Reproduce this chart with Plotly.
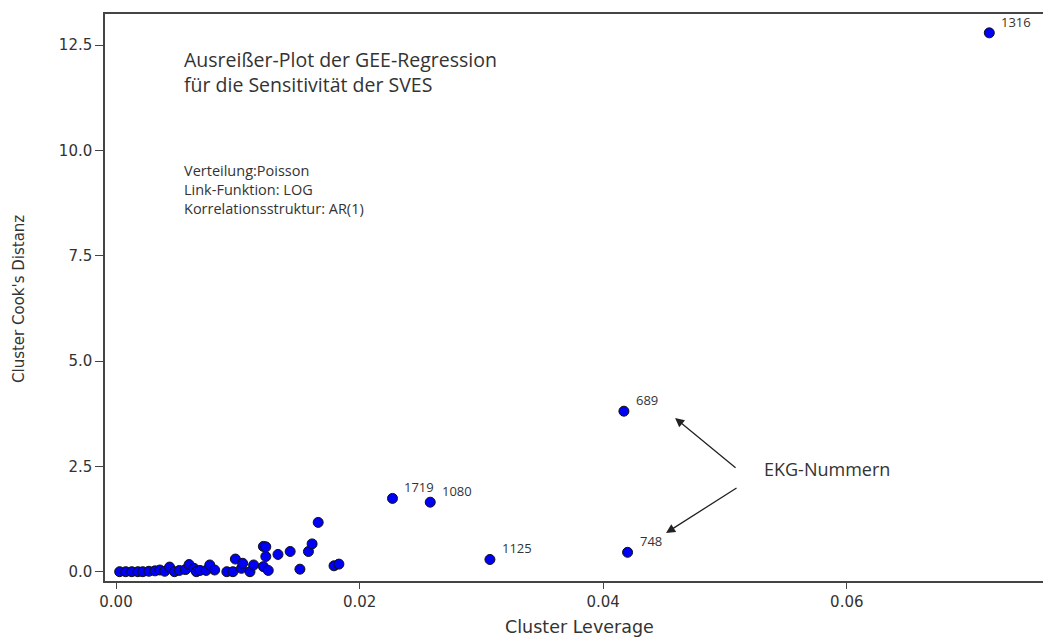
import plotly.graph_objects as go

# ---- data ----
leverage = [0.0003, 0.0008, 0.0013, 0.0018, 0.0022, 0.0027, 0.0032, 0.0036, 0.0040, 0.0044,
            0.0048, 0.0052, 0.0057, 0.0060, 0.0064, 0.0066, 0.0069, 0.0074, 0.0077, 0.0081,
            0.0091, 0.0096, 0.0098, 0.0103, 0.0104, 0.0110, 0.0113, 0.0121, 0.0121, 0.0123,
            0.0123, 0.0125, 0.0133, 0.0143, 0.0151, 0.0158, 0.0161, 0.0166, 0.0179, 0.0183,
            0.0227, 0.0258, 0.0307, 0.0417, 0.0420, 0.0717]
cooks = [0.00, 0.00, 0.00, 0.00, 0.00, 0.01, 0.02, 0.04, 0.01, 0.11,
         0.00, 0.03, 0.05, 0.17, 0.08, 0.00, 0.03, 0.03, 0.16, 0.04,
         0.00, 0.00, 0.30, 0.08, 0.20, 0.00, 0.16, 0.12, 0.60, 0.59,
         0.36, 0.03, 0.41, 0.48, 0.06, 0.48, 0.66, 1.17, 0.14, 0.18,
         1.74, 1.65, 0.29, 3.81, 0.46, 12.79]
point_labels = [""] * 40 + ["1719", "1080", "1125", "689", "748", "1316"]

x_ticks = [0.00, 0.02, 0.04, 0.06]
x_tick_text = ["0.00", "0.02", "0.04", "0.06"]
y_ticks = [0.0, 2.5, 5.0, 7.5, 10.0, 12.5]
y_tick_text = ["0.0", "2.5", "5.0", "7.5", "10.0", "12.5"]

title_lines = ["Ausreißer-Plot der GEE-Regression", "für die Sensitivität der SVES"]
info_lines = ["Verteilung:Poisson", "Link-Funktion: LOG", "Korrelationsstruktur: AR(1)"]
arrow_text = "EKG-Nummern"
x_title = "Cluster Leverage"
y_title = "Cluster Cook's Distanz"

# ---- figure geometry (pixels) ----
W, H = 1043, 637
L, R, T, B = 105, 0, 14, 56
pw, ph = W - L - R, H - T - B


def px_to_paper(px, py):
    return (px - L) / pw, (H - B - py) / ph


fig = go.Figure()
fig.add_trace(go.Scatter(
    x=leverage, y=cooks, mode="markers",
    marker=dict(size=10, color="rgb(0,0,245)", line=dict(color="#111111", width=1)),
    hoverinfo="x+y", showlegend=False, cliponaxis=False,
))

annotations = []
for xv, yv, lab in zip(leverage, cooks, point_labels):
    if lab:
        annotations.append(dict(
            x=xv, y=yv, xref="x", yref="y", text=lab, showarrow=False,
            xanchor="left", yanchor="middle", xshift=10, yshift=11,
            font=dict(family="Open Sans", size=13, color="#333333"),
        ))


def text_ann(text, px, py, size, family="Open Sans", xanchor="left", angle=0):
    xp, yp = px_to_paper(px, py)
    return dict(x=xp, y=yp, xref="paper", yref="paper", text=text, showarrow=False,
                xanchor=xanchor, yanchor="middle", textangle=angle, align="left",
                font=dict(family=family, size=size, color="#333333"))


annotations.append(text_ann("<br>".join(title_lines), 182, 71.5, 19.5))
annotations.append(text_ann("<br>".join(info_lines), 182, 189, 14.5))
annotations.append(text_ann(arrow_text, 762, 469, 18))
annotations.append(text_ann(x_title, 579, 627, 17.5, family="DejaVu Sans", xanchor="center"))
annotations.append(text_ann(y_title, 19, 299, 15, family="DejaVu Sans", xanchor="center", angle=-90))

# arrows (tail -> head) in data coordinates
arrows = [((0.05099, 2.44), (0.04590, 3.65)),
          ((0.05107, 2.01), (0.04516, 0.92))]
for (tx, ty), (hx, hy) in arrows:
    annotations.append(dict(
        x=hx, y=hy, ax=tx, ay=ty, xref="x", yref="y", axref="x", ayref="y",
        text="", showarrow=True, arrowhead=2, arrowsize=1.4, arrowwidth=1.3,
        arrowcolor="#222222", standoff=0, startstandoff=0,
    ))

x_range = [(L - 116) / 12180, (W - R - 116) / 12180]
y_range = [(571.7 - (H - B)) / 42.13, (571.7 - T) / 42.13]

fig.update_layout(
    width=W, height=H,
    margin=dict(l=L, r=R, t=T, b=B, pad=0),
    paper_bgcolor="white", plot_bgcolor="white",
    annotations=annotations,
    xaxis=dict(
        range=x_range, tickvals=x_ticks, ticktext=x_tick_text,
        showgrid=False, zeroline=False, showline=True, mirror=True,
        linecolor="#444444", linewidth=1.5,
        ticks="outside", ticklen=6, tickwidth=1.3, tickcolor="#444444",
        tickfont=dict(family="DejaVu Sans", size=15, color="#333333"),
    ),
    yaxis=dict(
        range=y_range, tickvals=y_ticks, ticktext=y_tick_text,
        showgrid=False, zeroline=False, showline=True, mirror=False,
        linecolor="#444444", linewidth=1.5,
        ticks="outside", ticklen=8, tickwidth=1.3, tickcolor="#444444",
        tickfont=dict(family="DejaVu Sans", size=15, color="#333333"),
    ),
)

fig.write_html("out.html", config={"displayModeBar": False})
